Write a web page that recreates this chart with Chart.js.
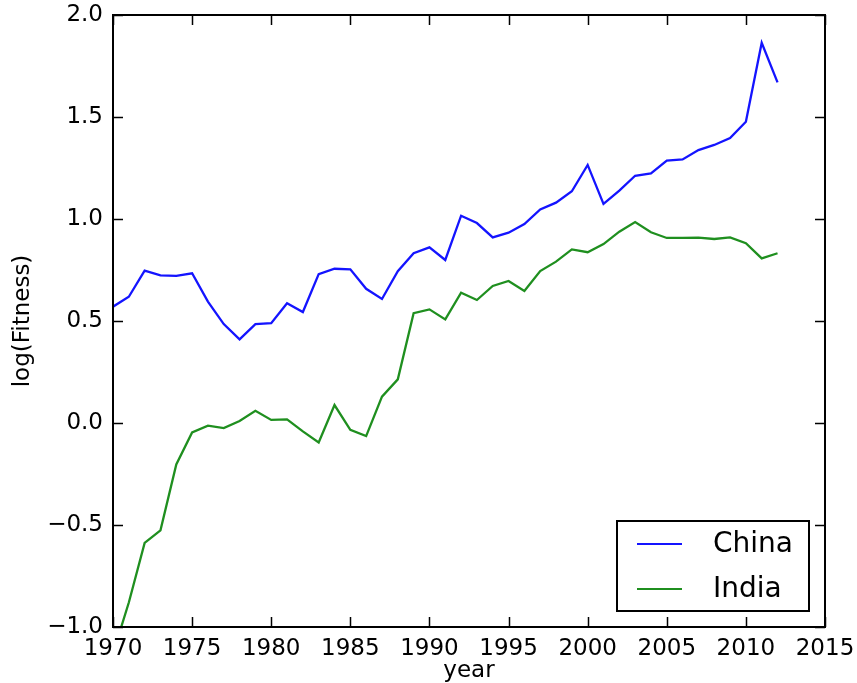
<!DOCTYPE html>
<html>
<head>
<meta charset="utf-8">
<script src="https://cdn.jsdelivr.net/npm/chart.js@4/dist/chart.umd.min.js"></script>
<style>
  html, body { margin: 0; padding: 0; background: #fff; }
  #wrap { width: 857px; height: 683px; }
</style>
</head>
<body>
<div id="wrap"><canvas id="c" width="857" height="683"></canvas></div>
<script>
// Years on the x axis
const years = [1970, 1971, 1972, 1973, 1974, 1975, 1976, 1977, 1978, 1979,
               1980, 1981, 1982, 1983, 1984, 1985, 1986, 1987, 1988, 1989,
               1990, 1991, 1992, 1993, 1994, 1995, 1996, 1997, 1998, 1999,
               2000, 2001, 2002, 2003, 2004, 2005, 2006, 2007, 2008, 2009,
               2010, 2011, 2012];

// log(Fitness) per country
const china = [0.570, 0.619, 0.747, 0.724, 0.721, 0.734, 0.595, 0.485, 0.410, 0.485,
               0.489, 0.587, 0.544, 0.730, 0.756, 0.753, 0.658, 0.608, 0.744, 0.832,
               0.861, 0.799, 1.016, 0.980, 0.910, 0.933, 0.975, 1.047, 1.080, 1.136,
               1.265, 1.074, 1.139, 1.212, 1.224, 1.286, 1.292, 1.338, 1.363, 1.397,
               1.477, 1.864, 1.670];
const india = [-1.13, -0.88, -0.588, -0.526, -0.203, -0.046, -0.013, -0.025, 0.010, 0.060,
               0.015, 0.018, -0.041, -0.095, 0.088, -0.034, -0.064, 0.129, 0.214, 0.538,
               0.557, 0.508, 0.639, 0.603, 0.672, 0.696, 0.647, 0.745, 0.791, 0.851,
               0.837, 0.877, 0.938, 0.985, 0.935, 0.907, 0.907, 0.909, 0.902, 0.910,
               0.881, 0.807, 0.832];

const seriesNames = ['China', 'India'];
const seriesColors = ['#1414ff', '#1f8f1f'];

const FONT = 'DejaVu Sans';

function toPoints(vals) {
  return years.map((y, i) => ({ x: y, y: vals[i] }));
}

// Black frame with inward tick marks on all four sides
const framePlugin = {
  id: 'frame',
  afterDatasetsDraw(chart) {
    const { ctx, chartArea: a, scales } = chart;
    const xs = scales.x, ys = scales.y;
    const TL = 10;
    ctx.save();
    ctx.strokeStyle = '#000';
    ctx.lineWidth = 1.5;
    ctx.beginPath();
    xs.ticks.forEach(t => {
      const px = Math.round(xs.getPixelForValue(t.value)) + 0.5;
      ctx.moveTo(px, a.bottom); ctx.lineTo(px, a.bottom - TL);
      ctx.moveTo(px, a.top); ctx.lineTo(px, a.top + TL);
    });
    ys.ticks.forEach(t => {
      const py = Math.round(ys.getPixelForValue(t.value)) + 0.5;
      ctx.moveTo(a.left, py); ctx.lineTo(a.left + TL, py);
      ctx.moveTo(a.right, py); ctx.lineTo(a.right - TL, py);
    });
    ctx.stroke();
    ctx.lineWidth = 2;
    ctx.strokeRect(a.left, a.top, a.right - a.left, a.bottom - a.top);
    ctx.restore();
  }
};

// Boxed legend in the lower right corner of the plot area
const boxLegendPlugin = {
  id: 'boxLegend',
  afterDraw(chart) {
    const { ctx, chartArea: a } = chart;
    const ds = chart.data.datasets;
    const right = a.right - 16, bottom = a.bottom - 16;
    const w = 192, h = 90;
    const left = right - w, top = bottom - h;
    ctx.save();
    ctx.fillStyle = '#fff';
    ctx.fillRect(left, top, w, h);
    ctx.strokeStyle = '#000';
    ctx.lineWidth = 2;
    ctx.strokeRect(left, top, w, h);
    ctx.font = '28px "' + FONT + '"';
    ctx.textBaseline = 'middle';
    ctx.textAlign = 'left';
    ds.forEach((d, i) => {
      const cy = top + 23 + i * 45;
      ctx.strokeStyle = d.borderColor;
      ctx.lineWidth = 2.2;
      ctx.beginPath();
      ctx.moveTo(left + 20, cy);
      ctx.lineTo(left + 65, cy);
      ctx.stroke();
      ctx.fillStyle = '#000';
      ctx.fillText(d.label, left + 96, cy + 1);
    });
    ctx.restore();
  }
};

// Invisible tick marks reserve the gap between the axis and its labels
const hiddenTicks = { display: true, drawOnChartArea: false, drawTicks: true,
                      color: 'rgba(0,0,0,0)' };

new Chart(document.getElementById('c'), {
  type: 'line',
  data: {
    datasets: [
      { label: seriesNames[0], data: toPoints(china), borderColor: seriesColors[0],
        borderWidth: 2.3, pointRadius: 0, tension: 0, fill: false },
      { label: seriesNames[1], data: toPoints(india), borderColor: seriesColors[1],
        borderWidth: 2.3, pointRadius: 0, tension: 0, fill: false }
    ]
  },
  options: {
    responsive: false,
    animation: false,
    layout: { padding: { top: 15, right: 32, left: 0, bottom: 0 } },
    plugins: { legend: { display: false }, tooltip: { enabled: false } },
    scales: {
      x: {
        type: 'linear', min: 1970, max: 2015,
        grid: Object.assign({ tickLength: 7 }, hiddenTicks),
        border: { display: false },
        ticks: { stepSize: 5, padding: 1, color: '#000',
                 font: { family: FONT, size: 23 },
                 callback: v => String(v) },
        title: { display: true, text: 'year', color: '#000',
                 font: { family: FONT, size: 23 }, padding: { top: 0, bottom: -2 } },
        afterFit: s => { s.height = 56; }
      },
      y: {
        type: 'linear', min: -1, max: 2,
        grid: Object.assign({ tickLength: 9 }, hiddenTicks),
        border: { display: false },
        ticks: { stepSize: 0.5, padding: 1, color: '#000',
                 font: { family: FONT, size: 23 },
                 callback: v => v.toFixed(1).replace('-', '\u2212') },
        title: { display: true, text: 'log(Fitness)', color: '#000',
                 font: { family: FONT, size: 23 }, padding: { top: 9, bottom: 0 } },
        afterFit: s => { s.width = 113; }
      }
    }
  },
  plugins: [framePlugin, boxLegendPlugin]
});
</script>
</body>
</html>
